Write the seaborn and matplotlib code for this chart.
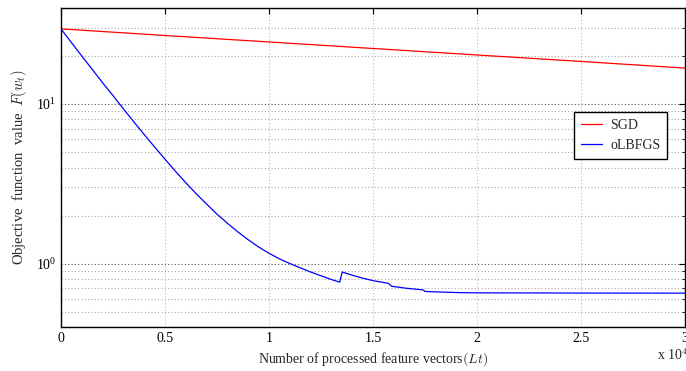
import pandas as pd
import matplotlib
matplotlib.use('Agg')
import matplotlib.pyplot as plt
import seaborn as sns
from matplotlib.ticker import LogLocator, FixedLocator, NullFormatter

sns.set_style('white')
plt.rcParams['font.family'] = ['Liberation Serif', 'DejaVu Serif']
plt.rcParams['mathtext.fontset'] = 'cm'

# values (x in units of 10^4 feature vectors)
sgd_x = [0.0, 0.5, 1.0, 1.5, 2.0, 2.5, 3.0]
sgd_y = [29.6, 26.9, 24.5, 22.3, 20.3, 18.5, 16.8]

lbfgs_x = [0.0, 0.05, 0.1, 0.15, 0.2, 0.25, 0.3, 0.35, 0.4, 0.45, 0.5,
           0.55, 0.6, 0.65, 0.7, 0.75, 0.8, 0.85, 0.9, 0.95, 1.0,
           1.05, 1.1, 1.15, 1.2, 1.25, 1.3, 1.34, 1.352, 1.4, 1.45,
           1.502, 1.574, 1.59, 1.66, 1.742, 1.75, 1.85, 1.918, 2.0, 2.5, 3.0]
lbfgs_y = [29.6, 24.3, 20.0, 16.5, 13.6, 11.3, 9.33, 7.74, 6.44, 5.38, 4.51,
           3.79, 3.21, 2.74, 2.36, 2.04, 1.79, 1.58, 1.41, 1.27, 1.16,
           1.07, 1.00, 0.940, 0.885, 0.838, 0.794, 0.764, 0.885, 0.845, 0.81,
           0.78, 0.752, 0.72, 0.70, 0.683, 0.668, 0.661, 0.657, 0.655, 0.653, 0.652]

df = pd.concat([
    pd.DataFrame({'x': sgd_x, 'y': sgd_y, 'method': 'SGD'}),
    pd.DataFrame({'x': lbfgs_x, 'y': lbfgs_y, 'method': 'oLBFGS'}),
], ignore_index=True)

fig = plt.figure(figsize=(6.86, 3.71), dpi=100)
ax = fig.add_axes([0.0889, 0.1186, 0.9096, 0.8598])

sns.lineplot(data=df, x='x', y='y', hue='method', palette={'SGD': 'red', 'oLBFGS': 'blue'},
             estimator=None, sort=False, linewidth=0.9, ax=ax)

ax.set_yscale('log')
ax.set_xlim(0, 3)
ax.set_ylim(0.4, 40)
ax.xaxis.set_major_locator(FixedLocator([0, 0.5, 1, 1.5, 2, 2.5, 3]))
ax.set_xticklabels(['0', '0.5', '1', '1.5', '2', '2.5', '3'])
ax.yaxis.set_major_locator(LogLocator(base=10))
ax.yaxis.set_minor_locator(LogLocator(base=10, subs=range(2, 10)))
ax.yaxis.set_minor_formatter(NullFormatter())

ax.grid(True, which='major', axis='y', linestyle=(0, (1, 2)), color='#555555', linewidth=0.8)
ax.grid(True, which='minor', axis='y', linestyle=(0, (1, 2)), color='#aaaaaa', linewidth=0.8)
ax.grid(True, which='major', axis='x', linestyle=(0, (1, 2)), color='#bbbbbb', linewidth=0.8)

ax.tick_params(which='both', direction='in', top=True, right=True, labelsize=10, colors='black')
ax.tick_params(which='major', length=4)
ax.tick_params(which='minor', length=2)
for s in ax.spines.values():
    s.set_color('black')
    s.set_linewidth(1.0)

ax.set_xlabel(r'Number of processed feature vectors$(Lt)$', fontsize=10, labelpad=4)
ax.set_ylabel(r'Objective  function  value  $F(w_t)$', fontsize=10.5, labelpad=5)

leg = ax.legend(loc='upper left', bbox_to_anchor=(0.822, 0.674), borderaxespad=0,
                fontsize=10, frameon=True, fancybox=False, edgecolor='black', framealpha=1,
                handlelength=1.5, handletextpad=0.6, borderpad=0.5, labelspacing=0.5)
leg.get_frame().set_linewidth(1.0)

fig.text(0.958, 0.022, r'x 10$^4$', fontsize=10, ha='left', va='bottom')

fig.savefig('out.png', dpi=100)
